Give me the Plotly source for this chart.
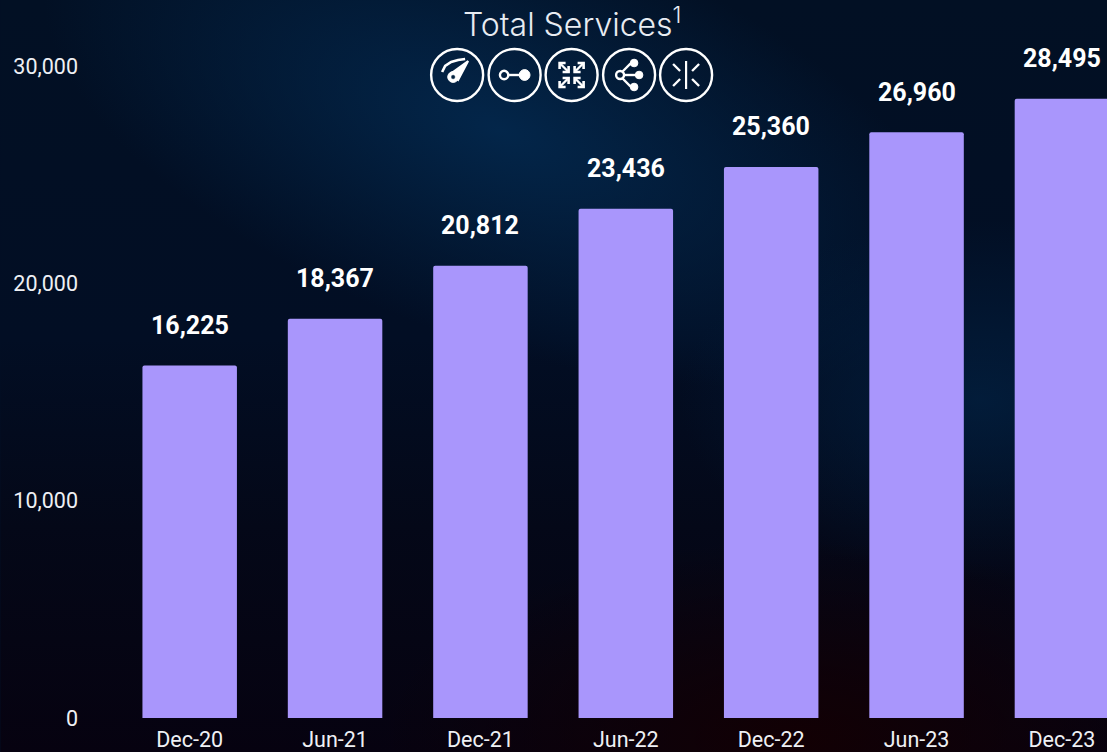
import base64
import plotly.graph_objects as go

categories = ["Dec-20", "Jun-21", "Dec-21", "Jun-22", "Dec-22", "Jun-23", "Dec-23"]
services = [16225, 18367, 20812, 23436, 25360, 26960, 28495]
y_ticks = [0, 10000, 20000, 30000]

W, H = 1107, 752
L, B = 116.8, 34

svg = f'''<svg xmlns="http://www.w3.org/2000/svg" width="{W}" height="{H}" viewBox="0 0 {W} {H}">
<defs>
<linearGradient id="b" x1="0" y1="0" x2="0" y2="1">
<stop offset="0" stop-color="#021024"/><stop offset="0.45" stop-color="#020e24"/>
<stop offset="0.7" stop-color="#040818"/><stop offset="1" stop-color="#060210"/></linearGradient>
<radialGradient id="g" gradientUnits="userSpaceOnUse" cx="0" cy="0" r="1" gradientTransform="translate(500 130) rotate(20) scale(480 210)">
<stop offset="0" stop-color="#03264a" stop-opacity="1"/><stop offset="1" stop-color="#03264a" stop-opacity="0"/></radialGradient>
<radialGradient id="h" gradientUnits="userSpaceOnUse" cx="0" cy="0" r="1" gradientTransform="translate(980 400) scale(300 180)">
<stop offset="0" stop-color="#022040" stop-opacity="0.8"/><stop offset="1" stop-color="#022040" stop-opacity="0"/></radialGradient>
<radialGradient id="r" gradientUnits="userSpaceOnUse" cx="0" cy="0" r="1" gradientTransform="translate(800 740) scale(420 200)">
<stop offset="0" stop-color="#120004" stop-opacity="1"/><stop offset="1" stop-color="#120004" stop-opacity="0"/></radialGradient>
</defs>
<rect width="{W}" height="{H}" fill="url(#b)"/><rect width="{W}" height="{H}" fill="url(#g)"/>
<rect width="{W}" height="{H}" fill="url(#h)"/><rect width="{W}" height="{H}" fill="url(#r)"/></svg>'''
bg = "data:image/svg+xml;base64," + base64.b64encode(svg.encode()).decode()


def px(x):
    return (x - L) / (W - L)


def py(y):
    return (H - B - y) / (H - B)


def shape_path(points, close=False):
    d = "M " + " L ".join(f"{px(x):.5f},{py(y):.5f}" for x, y in points)
    return d + (" Z" if close else "")


WHITE = "#ffffff"
shapes = []


def circle(cx, cy, r, fill=None, width=2.0):
    shapes.append(dict(type="circle", xref="paper", yref="paper",
                       x0=px(cx - r), x1=px(cx + r), y0=py(cy + r), y1=py(cy - r),
                       line=dict(color=WHITE, width=width),
                       fillcolor=fill if fill else "rgba(0,0,0,0)", layer="above"))


def line(pts, width=2.0, fill=None):
    shapes.append(dict(type="path", xref="paper", yref="paper", path=shape_path(pts, close=bool(fill)),
                       line=dict(color=WHITE, width=width),
                       fillcolor=fill if fill else "rgba(0,0,0,0)", layer="above"))


CY = 75
R = 26
centers = [457, 514.5, 571.5, 629, 686]
for c in centers:
    circle(c, CY, R, width=2.4)

# gauge
c = centers[0]
line([(c - 15, CY - 3), (c - 12, CY - 9), (c - 6, CY - 13), (c + 1, CY - 15), (c + 8, CY - 16)], width=2.6)
line([(c - 7, CY - 1), (c + 11, CY - 14), (c + 1, CY + 5)], width=2, fill=WHITE)
circle(c - 4, CY + 2, 5.4, fill=WHITE, width=1)
circle(c - 4, CY + 2, 2.2, fill="#03223f", width=0.5)

# link
c = centers[1]
circle(c - 10.5, CY, 4.2, width=2.4)
line([(c - 6, CY), (c + 6, CY)], width=2.4)
circle(c + 10, CY, 5.4, fill=WHITE, width=1)

# arrows in/out
c = centers[2]
for sx in (-1, 1):
    for sy in (-1, 1):
        line([(c + sx * 3, CY + sy * 3), (c + sx * 12, CY + sy * 12)], width=2.4)
        line([(c + sx * 12, CY + sy * 6), (c + sx * 12, CY + sy * 12), (c + sx * 6, CY + sy * 12)], width=2.6)
        line([(c + sx * 3, CY + sy * 9), (c + sx * 3, CY + sy * 3), (c + sx * 9, CY + sy * 3)], width=2.6)

# share/tree
c = centers[3]
circle(c - 9, CY, 4, width=2.4)
line([(c - 5, CY), (c + 8, CY)], width=2.4)
line([(c - 7, CY - 3), (c + 1, CY - 11), (c + 5, CY - 11)], width=2.4)
line([(c - 7, CY + 3), (c + 1, CY + 11), (c + 5, CY + 11)], width=2.4)
for dy in (-12, 0, 12):
    circle(c + (5 if dy else 10), CY + dy, 3.8, fill=WHITE, width=1)

# converge
c = centers[4]
line([(c, CY - 14), (c, CY + 14)], width=2.2)
for sx in (-1, 1):
    for sy in (-1, 1):
        line([(c + sx * 13, CY + sy * 11), (c + sx * 6, CY + sy * 4)], width=2.4)

fig = go.Figure(go.Bar(
    x=categories, y=services, width=0.65,
    marker=dict(color="#a996fc", cornerradius=2, line=dict(width=0)),
    hoverinfo="skip",
))

annotations = [dict(x=c, y=v, xref="x", yref="y", text=f"{v:,}", showarrow=False,
                    yshift=40, yanchor="middle", xanchor="center",
                    font=dict(family="Roboto", size=25, color=WHITE, weight=700))
               for c, v in zip(categories, services)]
annotations.append(dict(x=px(571.5), y=py(23), xref="paper", yref="paper",
                        text="Total Services<sup>1</sup>", showarrow=False,
                        xanchor="center", yanchor="middle",
                        font=dict(family="Inter", size=32, color="#e8ecf2", weight=300)))

fig.update_layout(
    width=W, height=H, autosize=False,
    margin=dict(l=L, r=0, t=0, b=B, pad=0, autoexpand=False),
    paper_bgcolor="#020e24", plot_bgcolor="rgba(0,0,0,0)",
    showlegend=False,
    images=[dict(source=bg, xref="paper", yref="paper", x=px(0), y=py(0), sizex=W / (W - L), sizey=H / (H - B),
                 sizing="stretch", xanchor="left", yanchor="top", layer="below")],
    shapes=shapes, annotations=annotations,
    xaxis=dict(type="category", range=[-0.5, 6.31], showgrid=False, zeroline=False, showline=False, automargin=False,
               ticks="", ticklabelstandoff=6, tickfont=dict(family="Roboto", size=21.5, color="#eef0f4")),
    yaxis=dict(range=[0, 33040], tickvals=y_ticks, tickformat=",", showgrid=False, zeroline=False, showline=False, automargin=False,
               ticks="", ticklabelstandoff=38, tickfont=dict(family="Roboto", size=21.5, color="#eef0f4")),
)

fig.write_html("out.html", config=dict(displayModeBar=False),
               post_script="document.body.style.margin='0';document.documentElement.style.overflow='hidden';document.body.style.background='#020e24';")
